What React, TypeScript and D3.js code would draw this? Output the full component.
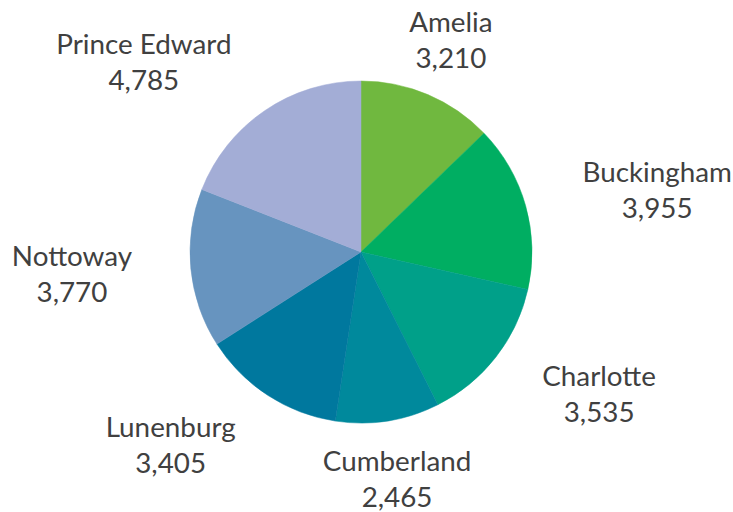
import React, { useEffect, useRef } from "react"
import * as d3 from "d3"

const counties = ["Amelia", "Buckingham", "Charlotte", "Cumberland", "Lunenburg", "Nottoway", "Prince Edward"]
const values = [3210, 3955, 3535, 2465, 3405, 3770, 4785]
const colors = ["#70b83f", "#00ae62", "#00a089", "#00899c", "#00789e", "#6794bf", "#a3add6"]

const W = 733
const H = 512

export default function App() {
  const ref = useRef<SVGSVGElement>(null)

  useEffect(() => {
    const svg = d3.select(ref.current)
    svg.selectAll("*").remove()

    const cx = 361
    const cy = 252
    const r = 171
    const labelR = r + 59

    const pie = d3.pie<number>().sort(null).value((d) => d)
    const arcs = pie(values)
    const arc = d3.arc<d3.PieArcDatum<number>>().innerRadius(0).outerRadius(r)

    const g = svg.append("g").attr("transform", "translate(" + cx + "," + cy + ")")

    g.selectAll("path")
      .data(arcs)
      .enter()
      .append("path")
      .attr("d", arc)
      .attr("fill", (d, i) => colors[i])
      .attr("stroke", (d, i) => colors[i])
      .attr("stroke-width", 0.5)

    const fmt = d3.format(",")

    const labels = g.selectAll("g.label")
      .data(arcs)
      .enter()
      .append("g")
      .attr("class", "label")

    labels.append("text")
      .attr("text-anchor", "middle")
      .attr("y", -8)
      .text((d, i) => counties[i])
    labels.append("text")
      .attr("text-anchor", "middle")
      .attr("y", 28)
      .text((d) => fmt(d.data))

    labels.selectAll("text")
      .attr("font-family", "Lato, 'Open Sans', sans-serif")
      .attr("font-size", 27.8)
      .attr("fill", "#404040")

    // labels near top/bottom sit centred on the mid angle, side labels are pushed out by half their width
    labels.attr("transform", function (d) {
      const node = this as SVGGElement
      let w = 0
      node.querySelectorAll("text").forEach((t) => {
        w = Math.max(w, (t as SVGTextElement).getComputedTextLength())
      })
      const a = (d.startAngle + d.endAngle) / 2
      const s = Math.sin(a)
      const c = Math.cos(a)
      const side = Math.abs(c) > 0.88 ? 0 : Math.sign(s)
      const x = labelR * s + side * w / 2
      const y = -labelR * c
      return "translate(" + x + "," + y + ")"
    })
  }, [])

  return (
    <svg
      ref={ref}
      width={W}
      height={H}
      style={{ position: "absolute", left: 0, top: 0, background: "#fff" }}
    />
  )
}
